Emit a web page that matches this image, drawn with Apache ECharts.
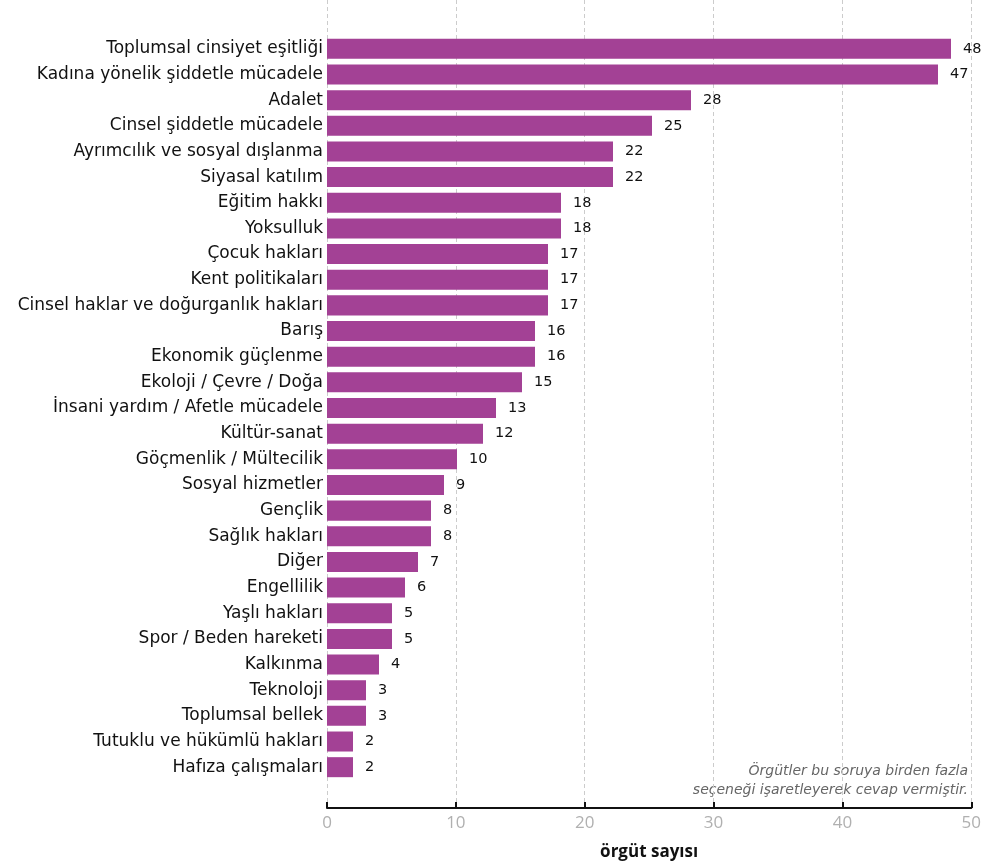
<!DOCTYPE html>
<html><head><meta charset="utf-8">
<script src="https://cdn.jsdelivr.net/npm/echarts@6/dist/echarts.min.js"></script>
<style>html,body{margin:0;padding:0;background:#fff}#c{width:984px;height:866px}</style>
</head><body><div id="c"></div>
<script>
const categories = ["Toplumsal cinsiyet eşitliği","Kadına yönelik şiddetle mücadele","Adalet","Cinsel şiddetle mücadele","Ayrımcılık ve sosyal dışlanma","Siyasal katılım","Eğitim hakkı","Yoksulluk","Çocuk hakları","Kent politikaları","Cinsel haklar ve doğurganlık hakları","Barış","Ekonomik güçlenme","Ekoloji / Çevre / Doğa","İnsani yardım / Afetle mücadele","Kültür-sanat","Göçmenlik / Mültecilik","Sosyal hizmetler","Gençlik","Sağlık hakları","Diğer","Engellilik","Yaşlı hakları","Spor / Beden hareketi","Kalkınma","Teknoloji","Toplumsal bellek","Tutuklu ve hükümlü hakları","Hafıza çalışmaları"];
const values = [48,47,28,25,22,22,18,18,17,17,17,16,16,15,13,12,10,9,8,8,7,6,5,5,4,3,3,2,2];
const xTicks = [0,10,20,30,40,50];
const axisTitle = "örgüt sayısı";
const noteLines = ["Örgütler bu soruya birden fazla","seçeneği işaretleyerek cevap vermiştir."];

const FONT = "DejaVu Sans";
const FONT2 = "Open Sans";
const chart = echarts.init(document.getElementById('c'), null, {renderer:'canvas'});
chart.setOption({
  animation:false,
  grid:[
    {left:327, right:7, top:36, bottom:86},
    {left:327, right:7, top:0, bottom:53}
  ],
  xAxis:[
    {gridIndex:0, type:'value', min:xTicks[0], max:xTicks[xTicks.length-1], interval:10, show:false},
    {gridIndex:1, type:'value', min:xTicks[0], max:xTicks[xTicks.length-1], interval:10,
     axisLine:{show:true, lineStyle:{color:'#111', width:2}},
     axisTick:{show:true, inside:true, length:6, lineStyle:{color:'#111', width:2}},
     axisLabel:{color:'#b0b0b0', fontSize:17, fontFamily:FONT2, margin:7},
     splitLine:{show:true, lineStyle:{color:'#ccc', type:[4,3], width:1}},
     name:axisTitle, nameLocation:'middle', nameGap:36,
     nameTextStyle:{color:'#111', fontSize:17, fontWeight:'bold', fontFamily:FONT2}}
  ],
  yAxis:[
    {gridIndex:0, type:'category', data:categories, inverse:true,
     axisLine:{show:false}, axisTick:{show:false},
     axisLabel:{color:'#111', fontSize:17, fontFamily:FONT, margin:4}},
    {gridIndex:1, type:'category', data:[], show:false}
  ],
  series:[{
    type:'bar', xAxisIndex:0, yAxisIndex:0, data:values,
    barCategoryGap:'22%',
    itemStyle:{color:'#A34195'},
    label:{show:true, position:'right', distance:12, color:'#111', fontSize:14.5, fontFamily:FONT}
  }],
  graphic:[{
    type:'text', right:16, top:762,
    style:{text:noteLines.join('\n'), textAlign:'right', fill:'#666', font:'oblique 14px "'+FONT+'"', lineHeight:19}
  }]
});
</script></body></html>
